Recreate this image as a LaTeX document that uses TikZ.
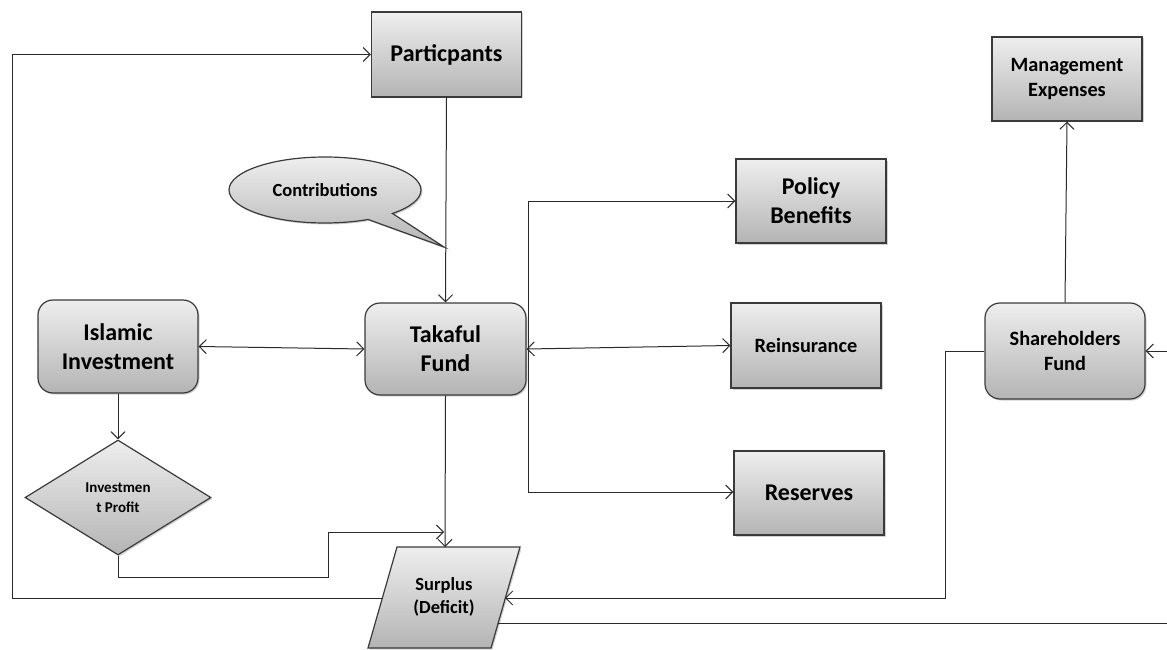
\documentclass[tikz,border=0pt]{standalone}
\usepackage{fontspec}
\setmainfont{Carlito}
\usetikzlibrary{arrows.meta,shapes.geometric,shapes.callouts,shadows}
\definecolor{edgec}{HTML}{3A3A3A}
\definecolor{topc}{HTML}{EEEEEE}
\definecolor{botc}{HTML}{B4B4B4}
\definecolor{linec}{HTML}{2A2A2A}
\begin{document}
\begin{tikzpicture}[x=1pt,y=-1pt,
  box/.style={draw=edgec, line width=1.2pt, top color=topc, bottom color=botc,
    align=center, inner sep=0pt,
    drop shadow={opacity=0.18,shadow xshift=1.5pt,shadow yshift=-1.5pt,fill=black}},
  sqbox/.style={box, rectangle},
  rbox/.style={box, rectangle, rounded corners=15pt},
  fA/.style={font=\fontsize{24}{29}\selectfont\bfseries},
  fB/.style={font=\fontsize{20.3}{25}\selectfont\bfseries},
  fC/.style={font=\fontsize{18.5}{23}\selectfont\bfseries},
  fD/.style={font=\fontsize{15}{19.5}\selectfont\bfseries},
  conn/.style={draw=linec, line width=1pt, -{Straight Barb[length=7pt,width=14pt]}},
  dconn/.style={draw=linec, line width=1pt, {Straight Barb[length=7pt,width=14pt]}-{Straight Barb[length=7pt,width=14pt]}},
  plain/.style={draw=linec, line width=1pt}]
\useasboundingbox (0,0) rectangle (1167,650);

% nodes
\node[sqbox, fA, minimum width=150pt, minimum height=85pt] (part) at (446.5,54.5) {Particpants};
\node[sqbox, fB, minimum width=150pt, minimum height=84pt] (mgmt) at (1067,79) {Management\\Expenses};
\node[sqbox, fA, minimum width=150pt, minimum height=84pt] (policy) at (811,201) {Policy\\Benefits};
\node[sqbox, fB, minimum width=150pt, minimum height=85pt] (reins) at (806,345.5) {Reinsurance};
\node[sqbox, fA, minimum width=150pt, minimum height=84pt] (reserves) at (809,493) {Reserves};
\node[rbox, fA, minimum width=161pt, minimum height=92pt] (takaful) at (445.5,349) {Takaful\\Fund};
\node[rbox, fA, minimum width=160pt, minimum height=93pt] (islamic) at (118,346.5) {Islamic\\Investment};
\node[rbox, fB, minimum width=160pt, minimum height=96pt] (share) at (1065,351) {Shareholders\\Fund};
\node[box, diamond, fD, aspect=1.617, minimum width=186pt, minimum height=115pt] (profit) at (118,497.5) {Investmen\\t Profit};

% callout
\coordinate (tip) at (444,247);
\node[box, ellipse callout, callout absolute pointer={(tip)}, callout pointer arc=18,
  fC, minimum width=192pt, minimum height=66pt] (contrib) at (325,190) {Contributions};

% surplus parallelogram
\coordinate (sBL) at (368,648);
\coordinate (sTL) at (397,547);
\coordinate (sTR) at (520,547);
\coordinate (sBR) at (491,648);
\path[box] (sBL) -- (sTL) -- (sTR) -- (sBR) -- cycle;
\node[fC, align=center] (surplus) at (444,597) {Surplus\\(Deficit)};

% connector coordinates
\coordinate (surplusTop) at (445,547);
\coordinate (surplusLeft) at (382,598);
\coordinate (surplusRight) at (505,598);
\coordinate (surplusRight2) at (498,623);
\coordinate (merge) at (444,532);
\coordinate (bTop) at (528,201);
\coordinate (bBot) at (528,492);
\coordinate (edgeLow) at (1167,623);
\coordinate (edgeHigh) at (1167,351);

% connectors
\draw[conn] (part.south) -- (takaful.north);
\draw[dconn] (islamic.east) -- (takaful.west);
\draw[conn] (islamic.south) -- (profit.north);
\draw[conn] (profit.south) -- (118,577) -- (328,577) -- (328,532) -- (merge);
\draw[conn] (takaful.south) -- (surplusTop);
\draw[conn] (surplusLeft) -- (12,598) -- (12,54.5) -- (part.west);
\draw[dconn] (takaful.east) -- (reins.west);
\draw[plain] (bTop) -- (bBot);
\draw[conn] (bTop) -- (policy.west |- bTop);
\draw[conn] (bBot) -- (reserves.west |- bBot);
\draw[conn] (share.west) -- (945,351) -- (945,598) -- (surplusRight);
\draw[plain] (surplusRight2) -- (edgeLow);
\draw[conn] (edgeHigh) -- (share.east);
\draw[conn] (share.north) -- (mgmt.south);
\end{tikzpicture}
\end{document}
